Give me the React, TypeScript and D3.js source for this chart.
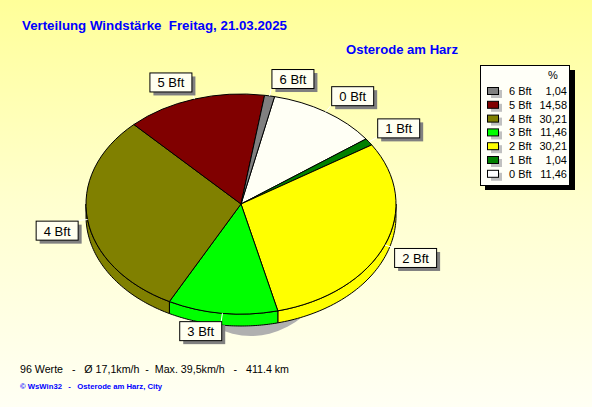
import React from "react";
import * as d3 from "d3";

const categories = ["0 Bft", "1 Bft", "2 Bft", "3 Bft", "4 Bft", "5 Bft", "6 Bft"];
const percentages = [11.46, 1.04, 30.21, 11.46, 30.21, 14.58, 1.04];
const sliceColors = ["#FFFFF5", "#008000", "#FFFF00", "#00FF00", "#808000", "#800000", "#808080"];
const legendColors = ["#808080", "#800000", "#808000", "#00FF00", "#FFFF00", "#008000", "#FFFFFF"];

const titleText = "Verteilung Windstärke  Freitag, 21.03.2025";
const stationText = "Osterode am Harz";
const statsText = "96 Werte   -   Ø 17,1km/h  -  Max. 39,5km/h   -   411.4 km";
const copyrightText = "© WsWin32   -   Osterode am Harz, City";

const FONT = "'Liberation Sans', Arial, sans-serif";

export default function App() {
  const W = 592;
  const H = 407;
  const cx = 241;
  const cy = 204;
  const rx = 155;
  const ry = 110;
  const depth = 12;
  const start = (12.5 * Math.PI) / 180;

  const pie = d3
    .pie<number>()
    .sort(null)
    .value((d) => d)
    .startAngle(start)
    .endAngle(start + 2 * Math.PI);
  const arcs = pie(percentages);
  const arcGen = d3.arc<d3.PieArcDatum<number>>().innerRadius(0).outerRadius(rx);
  const pt = (a: number, rX: number, rY: number): [number, number] => [
    cx + rX * Math.sin(a),
    cy - rY * Math.cos(a),
  ];
  const line = d3.line();

  const sides = arcs
    .map((a, i) => {
      const s = Math.max(a.startAngle, Math.PI / 2);
      const e = Math.min(a.endAngle, (3 * Math.PI) / 2);
      if (s >= e) return null;
      const n = 60;
      const angles = d3.range(n + 1).map((k) => s + ((e - s) * k) / n);
      const top = angles.map((ang) => pt(ang, rx, ry));
      const bottom = angles
        .slice()
        .reverse()
        .map((ang) => {
          const p = pt(ang, rx, ry);
          return [p[0], p[1] + depth] as [number, number];
        });
      return { d: line([...top, ...bottom]) + "Z", color: sliceColors[i], key: i };
    })
    .filter((x) => x !== null) as { d: string; color: string; key: number }[];

  const bw = 42;
  const bh = 19;
  const labels = arcs.map((a, i) => {
    const mid = (a.startAngle + a.endAngle) / 2;
    const edge = pt(mid, rx, ry);
    const anchor = pt(mid, rx + 10, ry + 8);
    const bx = Math.sin(mid) >= 0 ? anchor[0] : anchor[0] - bw;
    const by = Math.cos(mid) >= 0 ? anchor[1] - bh : anchor[1];
    return { edge, anchor, bx, by, text: categories[i] };
  });

  const legendCats = categories.slice().reverse();
  const legendVals = percentages.slice().reverse().map((v) => d3.format(".2f")(v).replace(".", ","));
  const fmtRowY = (i: number) => 95 + i * 13.8;

  return (
    <svg
      width={W}
      height={H}
      style={{ position: "absolute", left: 0, top: 0 }}
      fontFamily={FONT}
    >
      <defs>
        <linearGradient id="bg" x1="0" y1="0" x2="0" y2="1">
          <stop offset="0" stopColor="#FFFF99" />
          <stop offset="0.5" stopColor="#FFFFCF" />
          <stop offset="1" stopColor="#FFFFF4" />
        </linearGradient>
      </defs>
      <rect x={0} y={0} width={W} height={H} fill="url(#bg)" />

      <text
        x={22}
        y={29.5}
        fill="#0000FF"
        fontWeight="bold"
        fontSize={13}
        style={{ whiteSpace: "pre" }}
        textLength={265}
        lengthAdjust="spacingAndGlyphs"
      >
        {titleText}
      </text>
      <text x={346} y={54} fill="#0000FF" fontWeight="bold" fontSize={13} textLength={112} lengthAdjust="spacingAndGlyphs">
        {stationText}
      </text>

      {/* shadow */}
      <ellipse cx={cx + 10} cy={cy + depth} rx={95} ry={ry + 10} fill="#B0B0B0" />

      {/* side walls */}
      {sides.map((s) => (
        <path key={s.key} d={s.d} fill={s.color} stroke="#000" strokeWidth={1} />
      ))}

      {/* top faces */}
      <g transform={`translate(${cx},${cy}) scale(1,${ry / rx})`}>
        {arcs.map((a, i) => (
          <path
            key={i}
            d={arcGen(a) || ""}
            fill={sliceColors[i]}
            stroke="#000"
            strokeWidth={1}
            vectorEffect="non-scaling-stroke"
          />
        ))}
      </g>

      {/* labels */}
      {labels.map((l, i) => (
        <g key={i}>
          <line x1={l.edge[0]} y1={l.edge[1]} x2={l.anchor[0]} y2={l.anchor[1]} stroke="#FFFFFF" strokeWidth={1} />
          <rect x={l.bx + 4} y={l.by + 4} width={bw} height={bh} fill="#808080" />
          <rect x={l.bx + 0.5} y={l.by + 0.5} width={bw} height={bh} fill="#FFFFF0" stroke="#000" strokeWidth={1} />
          <text x={l.bx + bw / 2 + 0.5} y={l.by + 15} textAnchor="middle" fontSize={13} fill="#000">
            {l.text}
          </text>
        </g>
      ))}

      {/* legend */}
      <rect x={485} y={70} width={90} height={120} fill="#000" />
      <rect x={480.5} y={65.5} width={89} height={120} fill="#FFFFF8" stroke="#000" strokeWidth={1} />
      <text x={553} y={78.5} textAnchor="middle" fontSize={11} fill="#000">
        %
      </text>
      {legendCats.map((c, i) => (
        <g key={c}>
          <rect x={491} y={fmtRowY(i) - 5} width={11} height={8} fill="#C0C0C0" />
          <rect x={487.5} y={fmtRowY(i) - 7.5} width={11} height={7} fill={legendColors[i]} stroke="#000" strokeWidth={1} />
          <text x={509} y={fmtRowY(i)} fontSize={11} fill="#000">
            {c}
          </text>
          <text x={567} y={fmtRowY(i)} fontSize={11} fill="#000" textAnchor="end">
            {legendVals[i]}
          </text>
        </g>
      ))}

      <text
        x={20}
        y={373}
        fontSize={11}
        fill="#000"
        style={{ whiteSpace: "pre" }}
        textLength={269}
        lengthAdjust="spacingAndGlyphs"
      >
        {statsText}
      </text>
      <text
        x={20}
        y={388.5}
        fontSize={8}
        fontWeight="bold"
        fill="#0000FF"
        style={{ whiteSpace: "pre" }}
        textLength={142}
        lengthAdjust="spacingAndGlyphs"
      >
        {copyrightText}
      </text>
    </svg>
  );
}
